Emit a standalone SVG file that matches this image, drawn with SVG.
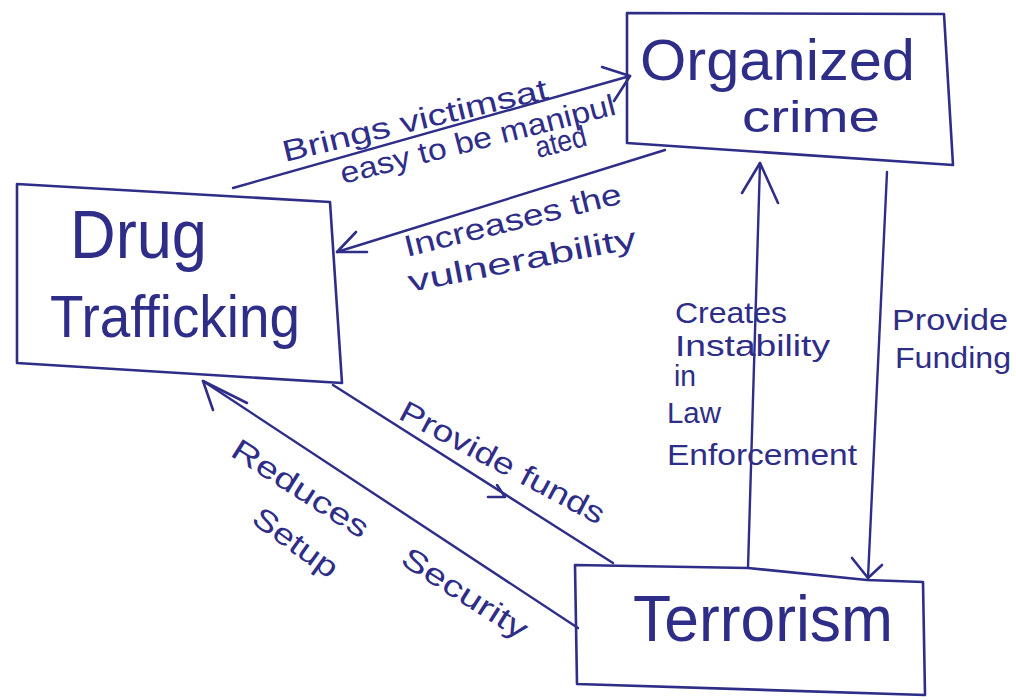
<svg xmlns="http://www.w3.org/2000/svg" width="1016" height="700" viewBox="0 0 1016 700">
  <style>
    .box { fill: none; stroke: #2e2d88; stroke-width: 2.6; stroke-linejoin: round; }
    .edge { fill: none; stroke: #2e2d88; stroke-width: 2.4; stroke-linecap: round; }
    .head { fill: none; stroke: #2e2d88; stroke-width: 2.6; stroke-linecap: round; stroke-linejoin: round; }
    .title { font-family: "Liberation Sans", "DejaVu Sans", sans-serif; fill: #2e2d88; }
    .lbl { font-family: "Liberation Sans", "DejaVu Sans", sans-serif; fill: #2e2d88; font-size: 30px; }
  </style>
  <rect width="1016" height="700" fill="#ffffff"/>

  <!-- Node: Organized crime -->
  <g id="organized-crime">
    <polygon class="box" points="627,13 944,14 953,165 627,143"/>
    <text class="title" x="640" y="80" font-size="58" textLength="275" lengthAdjust="spacingAndGlyphs">Organized</text>
    <text class="title" x="742" y="132" font-size="44" textLength="138" lengthAdjust="spacingAndGlyphs">crime</text>
  </g>

  <!-- Node: Drug Trafficking -->
  <g id="drug-trafficking">
    <polygon class="box" points="17,184 330,202 342,383 17,363"/>
    <text class="title" x="70" y="258" font-size="68" textLength="137" lengthAdjust="spacingAndGlyphs">Drug</text>
    <text class="title" x="50" y="337" font-size="60" textLength="250" lengthAdjust="spacingAndGlyphs">Trafficking</text>
  </g>

  <!-- Node: Terrorism -->
  <g id="terrorism">
    <polygon class="box" points="575,565 748,568 867,580 923,582 925,695 577,684"/>
    <text class="title" x="633" y="641" font-size="64" textLength="260" lengthAdjust="spacingAndGlyphs">Terrorism</text>
  </g>

  <!-- Connectors with their open arrowheads and labels -->
  <g id="connectors">
    <!-- Drug Trafficking -> Organized crime -->
    <path class="edge" d="M233,188 L630,76"/>
    <polyline class="head" points="602,67 630,76 614,101"/>
    <text class="lbl" transform="translate(285,162) rotate(-13.5)" font-size="32" textLength="272" lengthAdjust="spacingAndGlyphs">Brings victimsat</text>
    <text class="lbl" transform="translate(343,184) rotate(-14.3)" font-size="28" textLength="283" lengthAdjust="spacingAndGlyphs">easy to be manipul</text>
    <text class="lbl" transform="translate(538,158) rotate(-14)" font-size="26" textLength="52" lengthAdjust="spacingAndGlyphs">ated</text>

    <!-- Organized crime -> Drug Trafficking -->
    <path class="edge" d="M665,150 L337,252"/>
    <polyline class="head" points="356,232 337,252 367,252"/>
    <text class="lbl" transform="translate(407,257) rotate(-14)" textLength="223" lengthAdjust="spacingAndGlyphs">Increases the</text>
    <text class="lbl" transform="translate(410,292) rotate(-11)" textLength="232" lengthAdjust="spacingAndGlyphs">vulnerability</text>

    <!-- Drug Trafficking -> Terrorism -->
    <path class="edge" d="M333,385 L613,563"/>
    <polyline class="head" points="488,497 505,497 497,485"/>
    <text class="lbl" transform="translate(397,418) rotate(28)" textLength="228" lengthAdjust="spacingAndGlyphs">Provide funds</text>

    <!-- Terrorism -> Drug Trafficking -->
    <path class="edge" d="M578,628 L203,381"/>
    <polyline class="head" points="213,410 203,381 247,403"/>
    <text class="lbl" transform="translate(229,455) rotate(32.5)" textLength="345" lengthAdjust="spacingAndGlyphs">Reduces<tspan dx="34">Security</tspan></text>
    <text class="lbl" transform="translate(250,522) rotate(36)" textLength="98" lengthAdjust="spacingAndGlyphs">Setup</text>

    <!-- Terrorism -> Organized crime -->
    <path class="edge" d="M748,568 L760,163"/>
    <polyline class="head" points="742,193 760,163 778,203"/>
    <text class="lbl" x="675" y="323" textLength="112" lengthAdjust="spacingAndGlyphs">Creates</text>
    <text class="lbl" x="675" y="356" textLength="155" lengthAdjust="spacingAndGlyphs">Instability</text>
    <text class="lbl" x="674" y="386" font-size="22" textLength="22" lengthAdjust="spacingAndGlyphs">in</text>
    <text class="lbl" x="667" y="423" textLength="54" lengthAdjust="spacingAndGlyphs">Law</text>
    <text class="lbl" x="667" y="465" textLength="190" lengthAdjust="spacingAndGlyphs">Enforcement</text>

    <!-- Organized crime -> Terrorism -->
    <path class="edge" d="M887,172 L868,578"/>
    <polyline class="head" points="852,558 868,578 882,565"/>
    <text class="lbl" x="892" y="330" font-size="34" textLength="116" lengthAdjust="spacingAndGlyphs">Provide</text>
    <text class="lbl" x="895" y="368" font-size="32" textLength="116" lengthAdjust="spacingAndGlyphs">Funding</text>
  </g>
</svg>
